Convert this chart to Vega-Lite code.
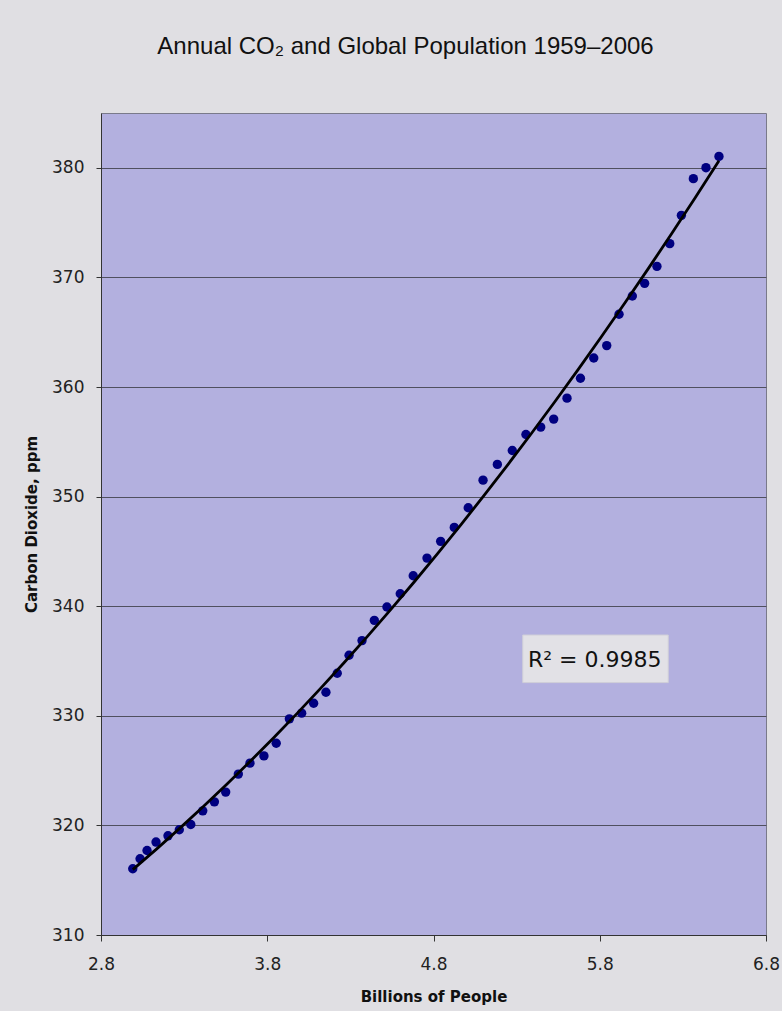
{
  "$schema": "https://vega.github.io/schema/vega-lite/v6.json",
  "width": 665,
  "height": 822,
  "autosize": {"type": "none"},
  "padding": {"left": 101, "top": 113, "right": 16, "bottom": 76},
  "background": "#e0dfe3",
  "title": {
    "text": "Annual CO₂ and Global Population 1959–2006",
    "font": "Liberation Sans, Arial, sans-serif",
    "fontSize": 24,
    "fontWeight": "normal",
    "color": "#111111",
    "anchor": "middle",
    "frame": "group",
    "dx": -28,
    "offset": 35,
    "baseline": "alphabetic"
  },
  "config": {
    "view": {"fill": "#b3b0df", "stroke": "#7a7a8a", "strokeWidth": 1}
  },
  "datasets": {
    "obs": [
      {"year": 1959, "pop": 2.991, "co2": 316.04},
      {"year": 1960, "pop": 3.035, "co2": 316.96},
      {"year": 1961, "pop": 3.077, "co2": 317.71},
      {"year": 1962, "pop": 3.131, "co2": 318.48},
      {"year": 1963, "pop": 3.203, "co2": 319.05},
      {"year": 1964, "pop": 3.271, "co2": 319.60},
      {"year": 1965, "pop": 3.340, "co2": 320.08},
      {"year": 1966, "pop": 3.412, "co2": 321.33},
      {"year": 1967, "pop": 3.482, "co2": 322.15},
      {"year": 1968, "pop": 3.550, "co2": 323.04},
      {"year": 1969, "pop": 3.626, "co2": 324.68},
      {"year": 1970, "pop": 3.696, "co2": 325.68},
      {"year": 1971, "pop": 3.780, "co2": 326.34},
      {"year": 1972, "pop": 3.854, "co2": 327.50},
      {"year": 1973, "pop": 3.933, "co2": 329.72},
      {"year": 1974, "pop": 4.007, "co2": 330.24},
      {"year": 1975, "pop": 4.079, "co2": 331.15},
      {"year": 1976, "pop": 4.153, "co2": 332.15},
      {"year": 1977, "pop": 4.221, "co2": 333.88},
      {"year": 1978, "pop": 4.292, "co2": 335.52},
      {"year": 1979, "pop": 4.370, "co2": 336.86},
      {"year": 1980, "pop": 4.444, "co2": 338.71},
      {"year": 1981, "pop": 4.520, "co2": 339.93},
      {"year": 1982, "pop": 4.600, "co2": 341.14},
      {"year": 1983, "pop": 4.678, "co2": 342.78},
      {"year": 1984, "pop": 4.761, "co2": 344.39},
      {"year": 1985, "pop": 4.843, "co2": 345.92},
      {"year": 1986, "pop": 4.925, "co2": 347.19},
      {"year": 1987, "pop": 5.009, "co2": 348.98},
      {"year": 1988, "pop": 5.098, "co2": 351.50},
      {"year": 1989, "pop": 5.184, "co2": 352.94},
      {"year": 1990, "pop": 5.274, "co2": 354.21},
      {"year": 1991, "pop": 5.356, "co2": 355.67},
      {"year": 1992, "pop": 5.445, "co2": 356.34},
      {"year": 1993, "pop": 5.523, "co2": 357.07},
      {"year": 1994, "pop": 5.603, "co2": 358.98},
      {"year": 1995, "pop": 5.684, "co2": 360.80},
      {"year": 1996, "pop": 5.764, "co2": 362.65},
      {"year": 1997, "pop": 5.842, "co2": 363.78},
      {"year": 1998, "pop": 5.916, "co2": 366.64},
      {"year": 1999, "pop": 5.996, "co2": 368.30},
      {"year": 2000, "pop": 6.070, "co2": 369.46},
      {"year": 2001, "pop": 6.144, "co2": 371.01},
      {"year": 2002, "pop": 6.221, "co2": 373.08},
      {"year": 2003, "pop": 6.291, "co2": 375.66},
      {"year": 2004, "pop": 6.363, "co2": 379.01},
      {"year": 2005, "pop": 6.439, "co2": 380.01},
      {"year": 2006, "pop": 6.517, "co2": 381.04}
    ],
    "note": [
      {"pop": 5.337, "pop2": 6.212, "co2": 333.03, "co2b": 337.37, "tx": 5.770, "ty": 335.10, "label": "R² = 0.9985"}
    ]
  },
  "layer": [
    {
      "data": {"name": "obs"},
      "mark": {"type": "point", "filled": true, "shape": "circle", "size": 88, "color": "#000080", "opacity": 1, "strokeWidth": 0},
      "encoding": {
        "x": {
          "field": "pop", "type": "quantitative", "title": "Billions of People",
          "scale": {"domain": [2.8, 6.8], "nice": false, "zero": false},
          "axis": {
            "values": [2.8, 3.8, 4.8, 5.8, 6.8],
            "format": ".1f",
            "grid": false,
            "labelFont": "DejaVu Sans",
            "labelFontSize": 17,
            "labelColor": "#222222",
            "labelFlush": false,
            "tickSize": 6,
            "tickColor": "#333333",
            "domainColor": "#333333",
            "labelPadding": 15,
            "titleFont": "DejaVu Sans",
            "titleFontWeight": "bold",
            "titleFontSize": 15,
            "titleColor": "#111111",
            "titlePadding": 17
          }
        },
        "y": {
          "field": "co2", "type": "quantitative", "title": "Carbon Dioxide, ppm",
          "scale": {"domain": [310, 385], "nice": false, "zero": false},
          "axis": {
            "values": [310, 320, 330, 340, 350, 360, 370, 380],
            "grid": true,
            "gridColor": "#50505f",
            "gridWidth": 1,
            "labelFont": "DejaVu Sans",
            "labelFontSize": 17,
            "labelColor": "#222222",
            "tickSize": 5,
            "tickColor": "#333333",
            "domainColor": "#333333",
            "labelPadding": 12,
            "titleFont": "DejaVu Sans",
            "titleFontWeight": "bold",
            "titleFontSize": 15,
            "titleColor": "#111111",
            "titlePadding": 12
          }
        }
      }
    },
    {
      "data": {"name": "obs"},
      "transform": [{"regression": "co2", "on": "pop", "method": "poly", "order": 2}],
      "mark": {"type": "line", "color": "#000000", "strokeWidth": 2.8},
      "encoding": {
        "x": {"field": "pop", "type": "quantitative", "title": "Billions of People"},
        "y": {"field": "co2", "type": "quantitative", "title": "Carbon Dioxide, ppm"}
      }
    },
    {
      "data": {"name": "note"},
      "mark": {"type": "rect", "fill": "#e2e1e6", "stroke": "#d0cfd8", "strokeWidth": 1},
      "encoding": {
        "x": {"field": "pop", "type": "quantitative", "title": "Billions of People"},
        "x2": {"field": "pop2"},
        "y": {"field": "co2", "type": "quantitative", "title": "Carbon Dioxide, ppm"},
        "y2": {"field": "co2b"}
      }
    },
    {
      "data": {"name": "note"},
      "mark": {"type": "text", "font": "DejaVu Sans", "fontSize": 22, "color": "#111111", "align": "center", "baseline": "middle"},
      "encoding": {
        "x": {"field": "tx", "type": "quantitative", "title": "Billions of People"},
        "y": {"field": "ty", "type": "quantitative", "title": "Carbon Dioxide, ppm"},
        "text": {"field": "label"}
      }
    }
  ]
}
